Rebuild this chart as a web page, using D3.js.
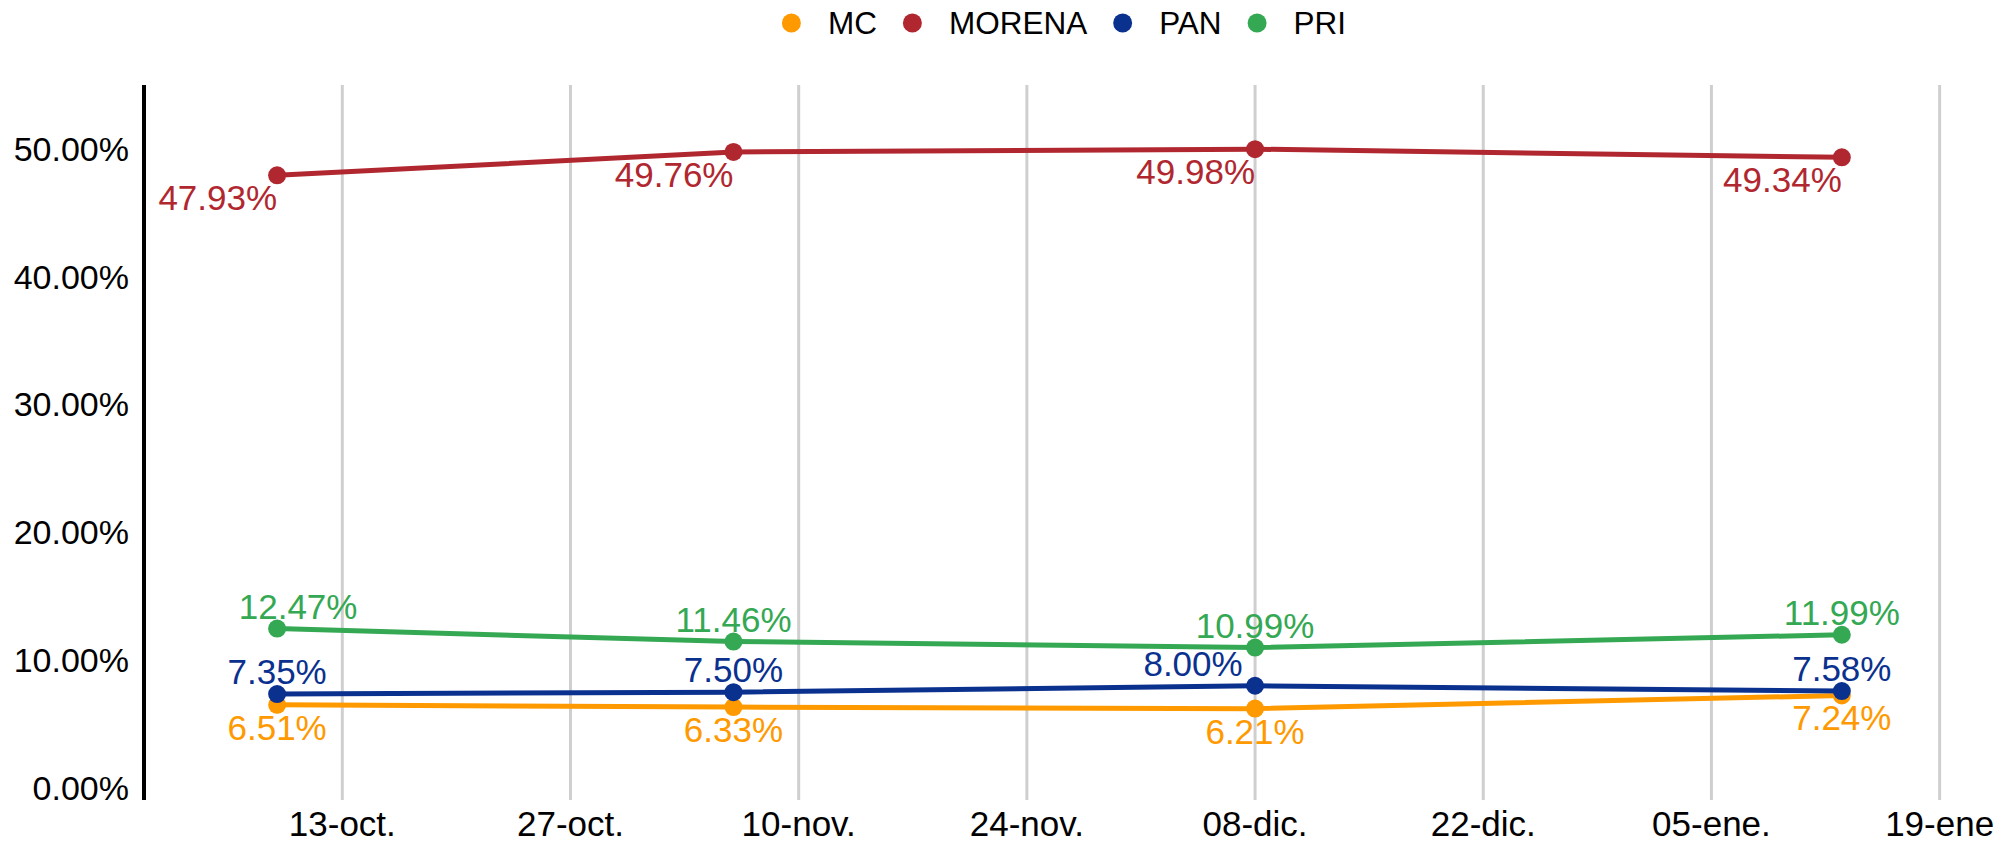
<!DOCTYPE html>
<html>
<head>
<meta charset="utf-8">
<script src="https://cdn.jsdelivr.net/npm/d3@7"></script>
<style>
  html, body { margin: 0; padding: 0; background: #fff; }
  svg { display: block; font-family: "Liberation Sans", Arial, sans-serif; }
</style>
</head>
<body>
<svg id="chart" width="2002" height="842"></svg>
<script>
// survey dates
const fechas = ["2024-10-09", "2024-11-06", "2024-12-08", "2025-01-13"];

// series, % of vote
const partidos = ["MC", "MORENA", "PAN", "PRI"];
const mc = [6.51, 6.33, 6.21, 7.24];
const morena = [47.93, 49.76, 49.98, 49.34];
const pan = [7.35, 7.50, 8.00, 7.58];
const pri = [12.47, 11.46, 10.99, 11.99];

// axis ticks
const yTicks = [0, 10, 20, 30, 40, 50];
const xTickFechas = ["2024-10-13", "2024-10-27", "2024-11-10", "2024-11-24", "2024-12-08", "2024-12-22", "2025-01-05", "2025-01-19"];
const xTickLabels = ["13-oct.", "27-oct.", "10-nov.", "24-nov.", "08-dic.", "22-dic.", "05-ene.", "19-ene"];

const colores = {MC: "#ff9900", MORENA: "#b1272f", PAN: "#0b318f", PRI: "#34a853"};
const parse = d3.timeParse("%Y-%m-%d");

const margin = {top: 85, right: 42, bottom: 42, left: 144};
const W = 2002, H = 842;
const plotBottom = H - margin.bottom - 12; // zero line; grid runs 12px lower
const svg = d3.select("#chart");

const x = d3.scaleTime()
  .domain([new Date(2024, 8, 30, 20), new Date(2025, 0, 20, 6)])
  .range([margin.left, W - margin.right]);

const y = d3.scaleLinear()
  .domain([0, 55])
  .range([plotBottom, margin.top]);

// vertical grid
svg.append("g")
  .selectAll("line")
  .data(xTickFechas)
  .join("line")
    .attr("x1", d => x(parse(d)))
    .attr("x2", d => x(parse(d)))
    .attr("y1", margin.top)
    .attr("y2", plotBottom + 12)
    .attr("stroke", "#cfcfcf")
    .attr("stroke-width", 3);

// x tick labels
svg.append("g")
  .selectAll("text")
  .data(xTickFechas)
  .join("text")
    .attr("x", d => x(parse(d)))
    .attr("y", 836)
    .attr("text-anchor", "middle")
    .attr("font-size", 35)
    .attr("fill", "#000")
    .text((d, i) => xTickLabels[i]);

// y axis
svg.append("line")
  .attr("x1", margin.left).attr("x2", margin.left)
  .attr("y1", margin.top).attr("y2", plotBottom + 12)
  .attr("stroke", "#000")
  .attr("stroke-width", 4);

svg.append("g")
  .selectAll("text")
  .data(yTicks)
  .join("text")
    .attr("x", margin.left - 15)
    .attr("y", d => y(d))
    .attr("dy", "0.35em")
    .attr("text-anchor", "end")
    .attr("font-size", 34)
    .attr("fill", "#000")
    .text(d => d3.format(".2f")(d) + "%");

// series
const series = [
  {name: "MC", values: mc, pos: "below"},
  {name: "MORENA", values: morena, pos: "belowLeft"},
  {name: "PAN", values: pan, pos: "above"},
  {name: "PRI", values: pri, pos: "above"}
];

// labels that were nudged sideways to dodge neighbours
const nudge = {"PRI-0": 21, "PAN-2": -62};

const line = d3.line()
  .x((d, i) => x(parse(fechas[i])))
  .y(d => y(d));

series.forEach(s => {
  const g = svg.append("g").classed("serie-" + s.name, true);
  const col = colores[s.name];

  g.append("path")
    .datum(s.values)
    .attr("d", line)
    .attr("fill", "none")
    .attr("stroke", col)
    .attr("stroke-width", 5)
    .attr("stroke-linejoin", "round");

  g.selectAll("circle")
    .data(s.values)
    .join("circle")
      .attr("cx", (d, i) => x(parse(fechas[i])))
      .attr("cy", d => y(d))
      .attr("r", 9)
      .attr("fill", col);

  g.selectAll("text")
    .data(s.values)
    .join("text")
      .attr("x", (d, i) => x(parse(fechas[i])) + (nudge[s.name + "-" + i] || 0))
      .attr("y", d => s.pos == "above" ? y(d) - 10 : y(d) + 35)
      .attr("text-anchor", s.pos == "belowLeft" ? "end" : "middle")
      .attr("font-size", 35)
      .attr("fill", col)
      .text(d => d3.format(".2f")(d) + "%");
});

// legend, centred at top
const legend = svg.append("g");
let lx = 0;
partidos.forEach((p, i) => {
  const item = legend.append("g").attr("transform", `translate(${lx},0)`);
  item.append("circle").attr("cx", 9.5).attr("cy", 23).attr("r", 9.5).attr("fill", colores[p]);
  const t = item.append("text")
    .attr("x", 46)
    .attr("y", 23)
    .attr("dy", "0.35em")
    .attr("font-size", 31.5)
    .attr("fill", "#000")
    .text(p);
  lx += 46 + t.node().getComputedTextLength() + 26;
});
const legW = lx - 26;
legend.attr("transform", `translate(${1064 - legW / 2},0)`);
</script>
</body>
</html>
